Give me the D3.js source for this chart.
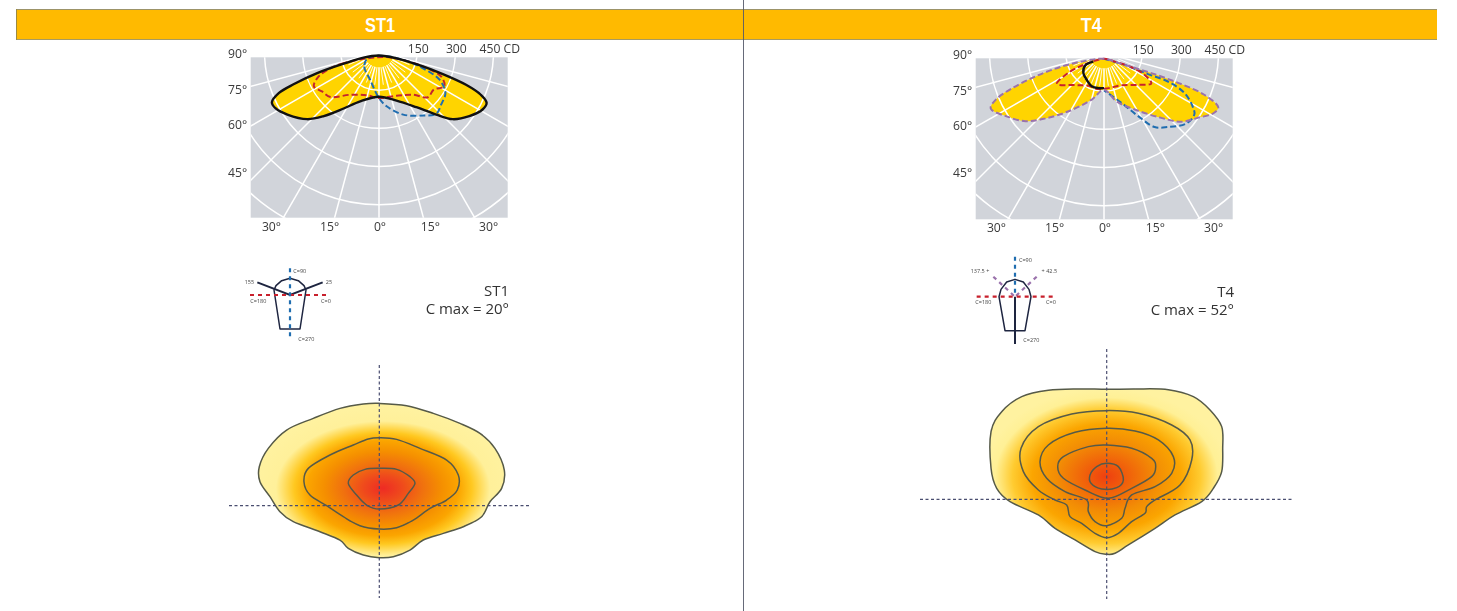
<!DOCTYPE html>
<html><head><meta charset="utf-8">
<script src="https://cdn.jsdelivr.net/npm/d3@7/dist/d3.min.js"></script>
<style>html,body{margin:0;padding:0;background:#fff;overflow:hidden}svg{display:block;filter:blur(0.45px)}text{font-family:"Open Sans",sans-serif}</style>
</head><body><svg id="c" width="1457" height="611"></svg>
<script>
// ---- tick labels and titles
const panelTitles = ["ST1", "T4"];
const cMaxLabels = ["C max = 20°", "C max = 52°"];
const intensityTicks = [150, 300, 450];
const ringValues = [150, 300, 450, 600, 750, 900];
const leftAngleTicks = [90, 75, 60, 45];
const bottomAngleTicks = [-30, -15, 0, 15, 30];
const spokeAngles = d3.range(-90, 91, 15);
const minorSpokeAngles = d3.range(-82.5, 83, 15);

// ---- photometric curves: [horizontal candela component, downward candela component]
const st1Black = [[0,14],[69,25],[147,48],[251,87],[342,129],[400,168],[423,200],[407,226],[355,252],[290,264],[225,246],[147,217],[69,191],[0,176],[-74,194],[-139,222],[-217,252],[-282,264],[-360,246],[-406,222],[-421,198],[-393,161],[-334,126],[-243,83],[-139,46],[-61,22]];
const st1Red = [[-48,25],[-139,44],[-191,64],[-237,96],[-256,135],[-224,155],[-191,177],[-113,168],[-48,170],[0,181],[69,172],[134,168],[192,178],[215,148],[257,135],[244,96],[173,57],[108,35],[30,20]];
const st1Blue = [[-42,22],[-58,57],[-35,109],[0,181],[30,213],[95,246],[173,250],[225,243],[244,207],[261,161],[238,109],[173,64],[108,35],[30,17]];
const t4Purple = [[0,23],[82,47],[186,79],[303,122],[394,164],[449,213],[433,235],[368,255],[303,270],[225,255],[121,222],[49,190],[0,144],[-48,183],[-139,229],[-230,257],[-308,268],[-386,248],[-445,218],[-425,183],[-360,138],[-269,92],[-165,53],[-74,31]];
const t4Red = [[0,23],[-81,47],[-139,77],[-185,121],[-113,126],[-61,129],[-22,142],[17,138],[69,127],[134,125],[186,120],[160,86],[108,56],[43,34]];
const t4BlackOpen = [[-42,34],[-74,49],[-81,79],[-68,105],[-48,131],[-22,138],[0,138]];
const t4BlueOpen = [[0,23],[82,47],[173,83],[251,112],[316,157],[348,209],[355,242],[322,278],[251,291],[199,291],[134,248],[69,196],[0,147]];

// ---- isolux contours: [across road, along road], relative units from the luminaire
const st1Iso = [
 [[0,-307],[82,-300],[162,-277],[242,-247],[302,-217],[347,-172],[375,-107],[367,-52],[332,-12],[307,33],[252,63],[192,83],[132,103],[92,133],[42,153],[0,156],[-48,148],[-93,128],[-118,103],[-178,78],[-258,48],[-298,18],[-328,-27],[-358,-72],[-360,-117],[-333,-172],[-278,-227],[-198,-262],[-118,-292],[-48,-305]],
 [[0,-204],[52,-199],[122,-172],[202,-137],[237,-92],[234,-47],[202,-17],[152,8],[102,43],[52,66],[0,70],[-58,60],[-108,33],[-158,0],[-208,-32],[-226,-72],[-213,-112],[-148,-152],[-78,-182],[-33,-200]],
 [[0,-112],[52,-109],[92,-87],[107,-67],[87,-37],[57,-2],[0,10],[-38,-2],[-68,-32],[-93,-67],[-78,-92],[-43,-109]]
];
const t4Iso = [
 [[0,-330],[85,-331],[185,-329],[260,-308],[310,-268],[345,-218],[348,-153],[345,-83],[320,-33],[285,7],[205,47],[145,87],[65,137],[25,162],[0,165],[-35,157],[-95,122],[-155,87],[-205,47],[-290,7],[-330,-33],[-347,-93],[-347,-203],[-315,-263],[-255,-308],[-175,-327],[-85,-331]],
 [[0,-266],[95,-258],[195,-223],[250,-178],[255,-118],[220,-43],[145,2],[120,22],[115,42],[75,67],[35,102],[0,115],[-35,102],[-75,72],[-110,52],[-120,17],[-155,2],[-205,-28],[-250,-83],[-257,-153],[-205,-218],[-105,-256]],
 [[0,-213],[85,-205],[155,-178],[200,-128],[195,-78],[145,-38],[75,-13],[55,27],[45,57],[0,79],[-35,67],[-55,37],[-60,2],[-125,-23],[-180,-63],[-200,-113],[-175,-163],[-95,-201]],
 [[0,-163],[75,-153],[135,-123],[147,-98],[135,-68],[75,-33],[5,-3],[-65,-28],[-130,-63],[-147,-98],[-130,-128],[-55,-158]],
 [[0,-108],[35,-98],[50,-58],[30,-35],[-15,-31],[-47,-48],[-50,-73],[-30,-98]]
];
const st1GradientStops = [[0,"#EE2B24"],[0.15,"#EF4A1C"],[0.3,"#F0700F"],[0.45,"#F58F00"],[0.58,"#FBA500"],[0.68,"#FFC820"],[0.82,"#FFF09A"],[1,"#FFF2A0"]];
const t4GradientStops = [[0,"#EE4010"],[0.12,"#F0560C"],[0.4,"#F28C05"],[0.6,"#FBA500"],[0.76,"#FFCB30"],[0.9,"#FFF096"],[1,"#FFF2A0"]];

// ---- layout
const W = 1457, H = 611;
const layouts = [
 {title:380, titleLen:30, rect:[250.7,57.3,507.7,217.7], c:[379,52], iso:[379.3,505.7], isoX:[229,530], isoY:[365,598],
  left:[228,[54,90,125,173]], bottomY:227, icon:[290,295], text:[509,296,314], grad:[0.506,0.55,0.53], ticksY:49,
  lines:[[st1Red,"#C4242E",true,true],[st1Blue,"#1F6DB0",true,true],[st1Black,"#111",false,true]],
  fill:st1Black, isoData:st1Iso, stops:st1GradientStops},
 {title:1091, titleLen:21, rect:[975.7,58.3,1232.7,219.3], c:[1104,53], iso:[1106.7,499.3], isoX:[920,1293], isoY:[349,599],
  left:[953,[55,91,126,173]], bottomY:228, icon:[1015,296.7], text:[1234,296.5,315], grad:[0.5,0.53,0.53], ticksY:50,
  lines:[[t4BlueOpen,"#1F6DB0",true,false],[t4Red,"#C8202C",true,true],[t4Purple,"#9A72AC",true,true],[t4BlackOpen,"#111",false,false]],
  fill:t4Purple, isoData:t4Iso, stops:t4GradientStops}
];
const iconGeom = [
 {body:[[-30,102],[-48,-15],[-42,-28],[-25,-43],[0,-50],[25,-43],[42,-28],[48,-15],[30,102]],
  solid:[[[-98,-38],[0,0],[98,-38]]],
  dashes:[[[-120,0],[120,0],"#C8202C"],[[0,-80],[0,135],"#1F6DB0"]],
  labels:[["C=90",10,-73,"start"],["C=270",25,132,"start"],["C=180",-95,17,"middle"],["C=0",108,17,"middle"],["155",-122,-38,"middle"],["25",117,-38,"middle"]]},
 {body:[[-30,102],[-48,0],[-42,-22],[-25,-44],[0,-52],[25,-44],[42,-22],[48,0],[30,102]],
  solid:[[[0,0],[0,142]]],
  dashes:[[[-65,-60],[0,0],"#9A72AC"],[[65,-60],[0,0],"#9A72AC"],[[-115,0],[118,0],"#C8202C"],[[0,-120],[0,0],"#1F6DB0"]],
  labels:[["C=90",12,-110,"start"],["C=270",25,130,"start"],["C=180",-95,15,"middle"],["C=0",108,15,"middle"],["137.5 +",-105,-78,"middle"],["+ 42.5",103,-78,"middle"]]}
];

const svg = d3.select("#c");
const defs = svg.append("defs");

// header
svg.append("rect").attr("x",16).attr("y",9.5).attr("width",1421).attr("height",30).attr("fill","#FFBA00");
svg.append("line").attr("x1",16).attr("x2",1437).attr("y1",9.5).attr("y2",9.5).attr("stroke","#9C9368").attr("stroke-width",1);
svg.append("line").attr("x1",16).attr("x2",1437).attr("y1",39.5).attr("y2",39.5).attr("stroke","#A69A62").attr("stroke-width",1);
svg.append("line").attr("x1",16.5).attr("x2",16.5).attr("y1",9).attr("y2",40).attr("stroke","#9C8A40").attr("stroke-width",1);
svg.append("line").attr("x1",743.5).attr("x2",743.5).attr("y1",0).attr("y2",H).attr("stroke","#55596A").attr("stroke-width",0.9);

const deg = d => d*Math.PI/180;
layouts.forEach((L,i) => {
  const g = svg.append("g");
  g.append("text").attr("x",L.title).attr("y",32).attr("text-anchor","middle").attr("fill","#fff")
    .attr("textLength",L.titleLen).attr("lengthAdjust","spacingAndGlyphs")
    .style("font-family","'Liberation Sans',sans-serif").style("font-weight",700).style("font-size","21px").text(panelTitles[i]);

  // polar diagram
  const [x0,y0,x1,y1] = L.rect;
  const r = d3.scaleLinear().domain([0,450]).range([0,114.5]);
  const px = d3.scaleLinear().domain([-450,450]).range([L.c[0]-114.5,L.c[0]+114.5]);
  const py = d3.scaleLinear().domain([0,450]).range([L.c[1],L.c[1]+114.5]);
  const clipId = "clip"+i;
  defs.append("clipPath").attr("id",clipId).append("rect").attr("x",x0).attr("y",y0).attr("width",x1-x0).attr("height",y1-y0);
  g.append("rect").attr("x",x0).attr("y",y0).attr("width",x1-x0).attr("height",y1-y0).attr("fill","#D1D4DA");
  const closed = d3.line().x(d=>px(d[0])).y(d=>py(d[1])).curve(d3.curveCatmullRomClosed.alpha(0.5));
  const open = d3.line().x(d=>px(d[0])).y(d=>py(d[1])).curve(d3.curveCatmullRom.alpha(0.5));
  g.append("path").attr("d",closed(L.fill)).attr("fill","#FFD400");
  const grid = g.append("g").attr("clip-path",`url(#${clipId})`).attr("stroke","#fff").attr("stroke-width",1.5).attr("fill","none");
  ringValues.forEach(v => grid.append("circle").attr("cx",L.c[0]).attr("cy",L.c[1]).attr("r",r(v)));
  spokeAngles.forEach(a => grid.append("line")
    .attr("x1",L.c[0]+r(60)*Math.sin(deg(a))).attr("y1",L.c[1]+r(60)*Math.cos(deg(a)))
    .attr("x2",L.c[0]+r(1000)*Math.sin(deg(a))).attr("y2",L.c[1]+r(1000)*Math.cos(deg(a))));
  minorSpokeAngles.forEach(a => grid.append("line").attr("stroke-width",0.9)
    .attr("x1",L.c[0]+r(60)*Math.sin(deg(a))).attr("y1",L.c[1]+r(60)*Math.cos(deg(a)))
    .attr("x2",L.c[0]+r(130)*Math.sin(deg(a))).attr("y2",L.c[1]+r(130)*Math.cos(deg(a))));
  L.lines.forEach(([d,color,dashed,isClosed]) => g.append("path").attr("d",(isClosed?closed:open)(d)).attr("fill","none")
    .attr("stroke",color).attr("stroke-width",dashed?2:2.4).attr("stroke-dasharray",dashed?"6,3":null).attr("stroke-linejoin","round"));

  const lbl = (x,y,t,anchor) => g.append("text").attr("x",x).attr("y",y+4).attr("text-anchor",anchor||"middle")
     .attr("fill","#3a3a3a").style("font-size","12.2px").text(t);
  leftAngleTicks.forEach((a,k) => lbl(L.left[0],L.left[1][k],a+"°","start"));
  bottomAngleTicks.forEach(a => lbl(L.c[0]+1+188*Math.tan(deg(a)),L.bottomY,Math.abs(a)+"°"));
  intensityTicks.forEach((v,k) => k<2 ? lbl(L.c[0]+r(v)+1,L.ticksY,v) : lbl(L.c[0]+r(v)-14,L.ticksY,v+" CD","start"));

  // C-plane key
  const s = d3.scaleLinear().domain([0,3]).range([0,1]);
  const ic = g.append("g").attr("transform",`translate(${L.icon[0]},${L.icon[1]})`);
  const G = iconGeom[i];
  const il = d3.line().x(d=>s(d[0])).y(d=>s(d[1]));
  ic.append("path").attr("d",il(G.body)+"Z").attr("fill","none").attr("stroke","#1E2540").attr("stroke-width",1.5).attr("stroke-linejoin","round");
  G.solid.forEach(p => ic.append("path").attr("d",il(p)).attr("fill","none").attr("stroke","#1E2540").attr("stroke-width",2));
  G.dashes.forEach(([a,b,col]) => ic.append("path").attr("d",il([a,b])).attr("stroke",col).attr("stroke-width",2.2).attr("stroke-dasharray","4,4"));
  G.labels.forEach(([t,x,y,an]) => ic.append("text").attr("x",s(x)).attr("y",s(y)+2).attr("text-anchor",an).attr("fill","#444").style("font-size","5.5px").text(t));

  g.append("text").attr("x",L.text[0]).attr("y",L.text[1]).attr("text-anchor","end").attr("fill","#333").style("font-size","15px").text(panelTitles[i]);
  g.append("text").attr("x",L.text[0]).attr("y",L.text[2]).attr("text-anchor","end").attr("fill","#333").style("font-size","15px").text(cMaxLabels[i]);

  // isolux plot
  const ix = d3.scaleLinear().domain([-300,300]).range([L.iso[0]-100,L.iso[0]+100]);
  const iy = d3.scaleLinear().domain([-300,300]).range([L.iso[1]-100,L.iso[1]+100]);
  const iso = d3.line().x(d=>ix(d[0])).y(d=>iy(d[1])).curve(d3.curveCatmullRomClosed.alpha(0));
  const gid = "grad"+i;
  const gr = defs.append("radialGradient").attr("id",gid).attr("cx",L.grad[0]).attr("cy",L.grad[1]).attr("r",L.grad[2]);
  L.stops.forEach(([o,c]) => gr.append("stop").attr("offset",o).attr("stop-color",c));
  g.append("path").attr("d",iso(L.isoData[0])).attr("fill",`url(#${gid})`);
  L.isoData.forEach(c => g.append("path").attr("d",iso(c)).attr("fill","none").attr("stroke","#565A48").attr("stroke-width",1.5));
  g.append("line").attr("x1",L.isoX[0]).attr("x2",L.isoX[1]).attr("y1",L.iso[1]).attr("y2",L.iso[1]).attr("stroke","#4A4E70").attr("stroke-width",1.2).attr("stroke-dasharray","3,2.5");
  g.append("line").attr("x1",L.iso[0]).attr("x2",L.iso[0]).attr("y1",L.isoY[0]).attr("y2",L.isoY[1]).attr("stroke","#4A4E70").attr("stroke-width",1.2).attr("stroke-dasharray","3,2.5");
});
</script></body></html>
